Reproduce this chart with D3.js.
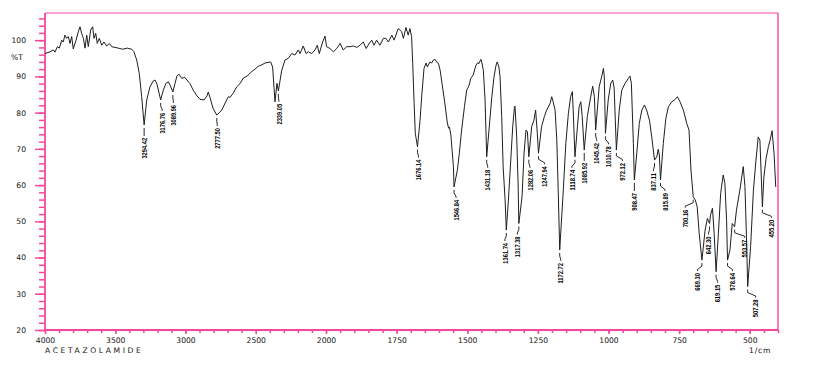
<!DOCTYPE html>
<html>
<head>
<meta charset="utf-8">
<script src="https://cdn.jsdelivr.net/npm/d3@7"></script>
<style>
  html, body { margin: 0; padding: 0; background: #fff; }
  svg { display: block; }
</style>
</head>
<body>
<svg id="chart" width="838" height="374"></svg>
<script>
// ---------- data ----------
const spectrum = [
  [4000,96.3],[3964,96.8],[3941,97.3],[3929,96.7],[3912,98.2],[3898,97.8],[3881,100.0],[3870,99.5],[3858,101.4],[3846,100.5],
  [3834,101.0],[3822,99.1],[3810,101.0],[3799,97.6],[3779,100.0],[3763,102.3],[3751,103.7],[3739,101.9],[3727,100.5],[3715,97.8],
  [3703,101.4],[3692,98.2],[3675,102.8],[3661,103.7],[3651,100.5],[3639,101.9],[3628,99.1],[3614,100.5],[3596,98.6],[3580,99.5],
  [3561,98.4],[3542,99.1],[3525,98.2],[3502,98.0],[3478,97.8],[3447,97.5],[3414,97.8],[3383,97.5],[3367,96.8],[3347,94.5],
  [3329,90.8],[3312,84.4],[3294.42,76.6],[3276,83.5],[3253,87.1],[3231,88.7],[3217,89.0],[3203,87.9],[3176.76,83.5],[3158,86.2],
  [3139,88.1],[3122,88.5],[3110,87.6],[3089.96,85.7],[3075,88.0],[3061,90.1],[3046,90.6],[3027,89.5],[3004,89.7],[2968,88.0],
  [2945,86.2],[2918,84.6],[2897,83.7],[2868,83.5],[2847,84.6],[2838,85.7],[2824,84.0],[2804,81.2],[2777.50,79.3],[2742,80.7],
  [2707,83.5],[2695,84.4],[2683,84.2],[2660,85.4],[2636,87.1],[2612,88.0],[2589,89.5],[2562,90.1],[2529,91.3],[2505,92.0],
  [2482,92.8],[2456,93.2],[2434,93.7],[2394,94.0],[2380,92.6],[2363,83.0],[2349,88.1],[2339.05,86.0],[2315,91.7],[2292,94.5],
  [2268,95.0],[2244,96.3],[2221,95.9],[2197,97.3],[2185,96.3],[2162,98.4],[2142,96.3],[2126,96.8],[2102,96.3],[2078,97.3],
  [2062,98.6],[2048,96.3],[2024,99.5],[2007,101.1],[1998,98.2],[1986,97.7],[1974,96.8],[1962,97.7],[1950,99.1],[1939,97.3],
  [1927,98.2],[1915,98.2],[1903,98.4],[1891,98.0],[1880,98.6],[1868,99.5],[1858,97.7],[1847,99.1],[1838,100.0],[1830,98.6],
  [1821,100.0],[1809,98.6],[1797,100.5],[1788,100.5],[1779,99.5],[1767,101.4],[1759,100.0],[1744,103.2],[1732,102.3],[1726,100.5],
  [1717,103.5],[1709,101.4],[1703,103.2],[1697,101.0],[1693,93.6],[1688,82.5],[1684,74.3],[1676.14,70.6],[1667,77.9],[1661,84.8],
  [1653,92.2],[1646,93.7],[1641,92.6],[1632,94.0],[1626,93.7],[1620,94.5],[1614,94.7],[1608,93.9],[1602,93.6],[1596,91.7],
  [1587,86.8],[1579,82.4],[1571,77.4],[1566,75.7],[1563,76.0],[1558,73.8],[1549,65.1],[1546.84,59.5],[1535,64.1],[1528,68.8],
  [1520,75.2],[1510,81.6],[1502,86.2],[1496,87.1],[1492,87.9],[1488,89.4],[1479,90.4],[1469,93.1],[1463,93.8],[1459,93.5],
  [1452,94.7],[1448,93.7],[1443,91.7],[1437,83.5],[1431.18,67.8],[1422,76.1],[1413,84.4],[1405,90.0],[1398,93.1],[1394,94.0],
  [1388,92.6],[1384,90.0],[1378,78.9],[1373,65.1],[1366,55.9],[1361.74,47.6],[1355,55.0],[1346,66.9],[1339,76.1],[1333,81.5],
  [1331,81.8],[1325,73.3],[1320,60.5],[1317.38,49.4],[1306,56.8],[1299,68.8],[1292,75.2],[1287,74.7],[1282.06,67.8],[1272,76.1],
  [1264,77.9],[1258,80.7],[1252,74.3],[1247.94,68.8],[1237,76.1],[1227,78.9],[1219,80.7],[1207,82.5],[1201,84.4],[1196,83.0],
  [1189,80.7],[1183,72.4],[1178,58.6],[1172.72,42.1],[1160,58.6],[1151,71.5],[1142,79.8],[1134,84.4],[1128,85.8],[1125,80.7],
  [1118.74,67.8],[1110,76.1],[1104,81.6],[1098,83.0],[1093,78.9],[1085.92,69.7],[1075,78.9],[1065,83.5],[1056,87.3],[1050,84.4],
  [1045.42,75.2],[1033,87.1],[1024,90.0],[1018,92.2],[1015,90.1],[1010.78,74.3],[1001,83.5],[992,88.1],[985,89.0],[980,86.8],
  [972.12,69.7],[962,80.7],[953,86.2],[942,88.0],[930,89.4],[924,90.1],[919,88.1],[912,71.5],[908.47,61.4],[900,68.8],
  [891,77.0],[882,80.7],[873,82.1],[865,80.7],[855,77.9],[847,73.3],[837.11,66.9],[829,67.8],[824,69.9],[820,68.3],
  [815.89,61.4],[806,71.5],[797,78.4],[788,81.6],[776,83.0],[765,83.6],[756,84.4],[747,83.0],[735,80.7],[723,77.0],
  [715,75.2],[708,64.1],[700.16,56.8],[693,55.9],[686,54.0],[679,46.7],[669.30,39.3],[658,47.6],[650,50.8],[642.30,49.4],
  [639,51.7],[632,53.6],[626,46.7],[619.15,36.1],[611,46.7],[603,57.7],[594,62.8],[588,60.5],[582,50.3],[578.64,39.3],
  [570,42.1],[562,49.4],[553.57,48.5],[547,53.1],[535,58.6],[523,65.1],[517,59.6],[511,43.9],[507.28,32.0],[497,43.0],
  [487,58.6],[478,66.9],[470,73.3],[464,72.4],[455.20,54.0],[450,62.3],[442,67.4],[434,70.6],[428,72.4],[421,75.0],
  [414,68.8],[408,59.5]
];

const peakLabels = ["3294.42","3176.76","3089.96","2777.50","2339.05","1676.14","1546.84","1431.18","1361.74","1317.38",
  "1282.06","1247.94","1172.72","1118.74","1085.92","1045.42","1010.78","972.12","908.47","837.11","815.89","700.16",
  "669.30","642.30","619.15","578.64","553.57","507.28","455.20"];

const xTickLabels = [4000,3500,3000,2500,2000,1750,1500,1250,1000,750,500];
const yTickLabels = [20,30,40,50,60,70,80,90,100];
const sampleName = "ACETAZOLAMIDE";
const xUnit = "1/cm";
const yUnit = "%T";

// ---------- layout ----------
const labelDx = [0,1.5,0.5,0.5,0.5,1,2,1,-1.5,-1.5,1,6,1,-3,0,1,3,6,0,-1,4.5,-8,-4.5,-1,1.5,5,10,8,9];
const pink = "#f6479f";
const ink = "#111";

const svg = d3.select("#chart");
const x = d3.scaleLinear().domain([4000, 2000, 400]).range([45, 326, 778]);
const y = d3.scaleLinear().domain([20, 107.5]).range([330, 13]);

// minor ticks
const xMinor = d3.range(4000, 2000, -100).concat(d3.range(2000, 399, -50));
const yMinor = d3.range(20, 107, 2);

// frame: top & right thin
svg.append("line").attr("x1", x(4000)).attr("x2", x(400)).attr("y1", y(107.5)).attr("y2", y(107.5))
  .attr("stroke", pink).attr("stroke-width", 1.2);
svg.append("line").attr("x1", x(400)).attr("x2", x(400)).attr("y1", y(107.5)).attr("y2", y(20))
  .attr("stroke", pink).attr("stroke-width", 1.4);

// y axis
const yAxisMinor = d3.axisLeft(y).tickValues(yMinor).tickSize(6).tickFormat("");
const gyMin = svg.append("g").attr("transform", `translate(${x(4000)},0)`).call(yAxisMinor);
const yAxis = d3.axisLeft(y).tickValues(yTickLabels).tickSize(10).tickPadding(9).tickFormat(d3.format("d"));
const gy = svg.append("g").attr("transform", `translate(${x(4000)},0)`).call(yAxis);

// x axis
const xAxisMinor = d3.axisBottom(x).tickValues(xMinor).tickSize(3).tickFormat("");
const gxMin = svg.append("g").attr("transform", `translate(0,${y(20)})`).call(xAxisMinor);
const xAxis = d3.axisBottom(x).tickValues(xTickLabels).tickSize(4).tickPadding(4).tickFormat(d3.format("d"));
const gx = svg.append("g").attr("transform", `translate(0,${y(20)})`).call(xAxis);

[gyMin, gy, gxMin, gx].forEach(g => {
  g.select(".domain").remove();
  g.selectAll(".tick line").attr("stroke", pink).attr("stroke-width", 1.5);
  g.selectAll("text").attr("fill", ink).style("font-family", "'DejaVu Sans', sans-serif").style("font-size", "7.6px");
});

// thick left & bottom axis lines
svg.append("line").attr("x1", x(4000)).attr("x2", x(4000)).attr("y1", y(107.5)).attr("y2", y(20) + 1)
  .attr("stroke", pink).attr("stroke-width", 1.8);
svg.append("line").attr("x1", x(4000) - 1).attr("x2", x(400)).attr("y1", y(20)).attr("y2", y(20))
  .attr("stroke", pink).attr("stroke-width", 1.8);

// axis titles
svg.append("text").attr("x", 11).attr("y", 60).text(yUnit)
  .attr("fill", ink).style("font-family", "'DejaVu Sans', sans-serif").style("font-size", "7.6px");
svg.append("text").attr("x", x(4000)).attr("y", 353).text(sampleName)
  .attr("fill", ink).style("font-family", "'DejaVu Sans', sans-serif").style("font-size", "7.6px")
  .style("letter-spacing", "2.6px");
svg.append("text").attr("x", 749).attr("y", 353).text(xUnit)
  .attr("fill", ink).style("font-family", "'DejaVu Sans', sans-serif").style("font-size", "7.6px")
  .style("letter-spacing", "0.8px");

// spectrum line
const line = d3.line().x(d => x(d[0])).y(d => y(d[1]));
svg.append("path").datum(spectrum).attr("d", line)
  .attr("fill", "none").attr("stroke", "#1e1e1e").attr("stroke-width", 1).attr("stroke-linejoin", "round");

// peak labels
function valueAt(wn) {
  let best = spectrum[0];
  spectrum.forEach(p => { if (Math.abs(p[0] - wn) < Math.abs(best[0] - wn)) best = p; });
  return best[1];
}
const gl = svg.append("g");
peakLabels.forEach((lab, i) => {
  const wn = parseFloat(lab);
  const px = x(wn), py = y(valueAt(wn));
  const dx = labelDx[i];
  const tx = px + dx;
  const path = dx === 0
    ? `M${px},${py + 3}L${px},${py + 11}`
    : `M${px},${py + 3}L${px},${py + 6}L${tx},${py + 9.5}L${tx},${py + 11}`;
  gl.append("path").attr("d", path).attr("fill", "none").attr("stroke", ink).attr("stroke-width", 0.9);
  gl.append("text")
    .attr("transform", `translate(${tx},${py + 13}) rotate(-90)`)
    .attr("text-anchor", "end")
    .attr("dy", "0.35em")
    .attr("textLength", lab.length * 2.95)
    .attr("lengthAdjust", "spacingAndGlyphs")
    .attr("fill", "#000")
    .style("font-family", "'Liberation Sans', Arial, sans-serif")
    .style("font-weight", "bold")
    .style("font-size", "7.8px")
    .text(lab);
});
</script>
</body>
</html>
